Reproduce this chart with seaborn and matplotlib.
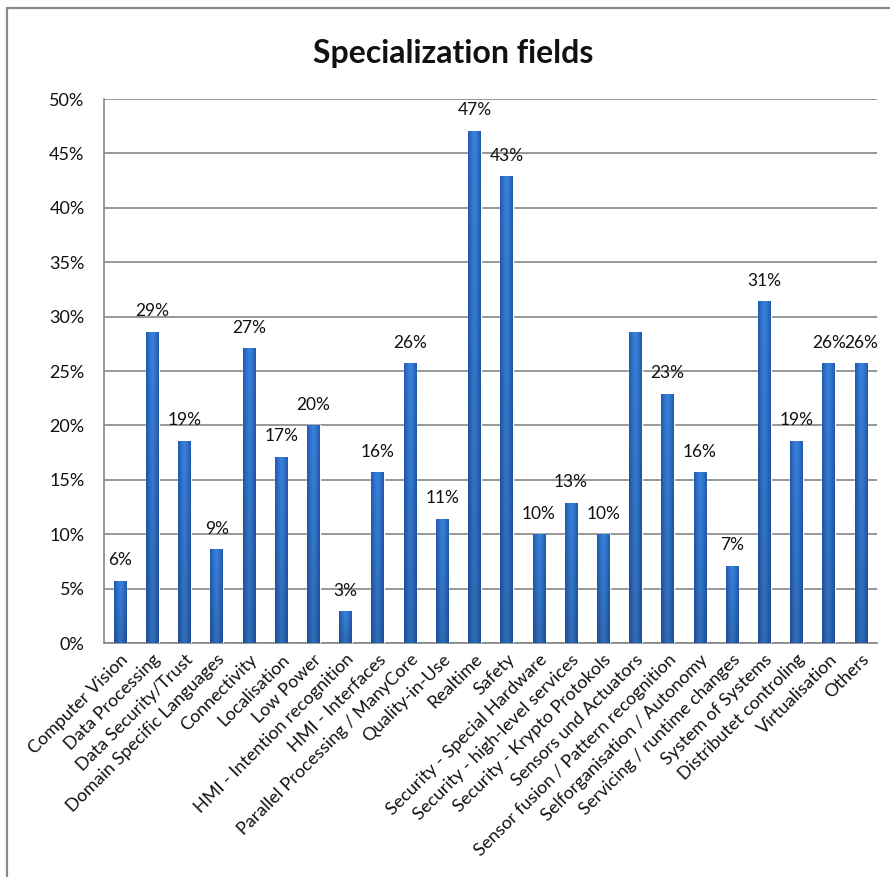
import numpy as np
import pandas as pd
import matplotlib
matplotlib.use("Agg")
import matplotlib.pyplot as plt
from matplotlib.colors import LinearSegmentedColormap
from matplotlib.patches import Rectangle
import seaborn as sns

categories = [
    "Computer Vision", "Data Processing", "Data Security/Trust",
    "Domain Specific Languages", "Connectivity", "Localisation", "Low Power",
    "HMI - Intention recognition", "HMI - Interfaces",
    "Parallel Processing / ManyCore", "Quality-in-Use", "Realtime", "Safety",
    "Security - Special Hardware", "Security - high-level services",
    "Security - Krypto Protokols", "Sensors und Actuators",
    "Sensor fusion / Pattern recognition", "Selforganisation / Autonomy",
    "Servicing / runtime changes", "System of Systems",
    "Distributet controling", "Virtualisation", "Others",
]
share_pct = [
    5.7, 28.6, 18.6, 8.6, 27.1, 17.1, 20.0, 2.9, 15.7, 25.7, 11.4, 47.1,
    42.9, 10.0, 12.9, 10.0, 28.6, 22.9, 15.7, 7.1, 31.4, 18.6, 25.7, 25.7,
]
# value labels shown above the bars (one is left out)
show_label = [True] * 16 + [False] + [True] * 7
y_ticks = [0, 5, 10, 15, 20, 25, 30, 35, 40, 45, 50]

df = pd.DataFrame({"field": categories, "share": share_pct})

sns.set_style("white")
plt.rcParams["font.family"] = ["Lato", "DejaVu Sans"]

W, H = 890, 877
fig = plt.figure(figsize=(W / 100, H / 100), dpi=100)
fig.patch.set_facecolor("white")

# chart frame
fig.add_artist(Rectangle((7 / W, -0.05), 1.2, (H - 8) / H + 0.05,
                         transform=fig.transFigure, fill=False,
                         edgecolor="#8a8a8a", linewidth=1.6))

ax = fig.add_axes([104 / W, (H - 643) / H, (877 - 104) / W, (643 - 99) / H])
sns.barplot(data=df, x="field", y="share", color="#2f72cc", width=0.39,
            saturation=1, ax=ax, zorder=3)

ax.set_xlim(-0.5, len(categories) - 0.5)
ax.set_ylim(0, 50)
ax.set_yticks(y_ticks)
ax.set_yticklabels([f"{t}%" for t in y_ticks], fontsize=13, color="#111111")
ax.yaxis.grid(True, color="#858585", linewidth=1.2, zorder=0)
ax.xaxis.grid(False)
ax.set_xlabel("")
ax.set_ylabel("")

for side in ["top", "right"]:
    ax.spines[side].set_visible(False)
for side in ["left", "bottom"]:
    ax.spines[side].set_color("#858585")
    ax.spines[side].set_linewidth(1.2)

ax.tick_params(axis="y", which="major", length=6, width=1.2, color="#858585",
               pad=8)
ax.set_xticks(range(len(categories)))
ax.set_xticklabels(categories, rotation=45, ha="right", rotation_mode="anchor",
                   fontsize=13, color="#111111")
ax.tick_params(axis="x", which="major", length=0, pad=6)
ax.set_xticks(np.arange(-0.5, len(categories)), minor=True)
ax.tick_params(axis="x", which="minor", length=5, width=1.2, color="#858585")

# shaded fill for each bar: lighter core, darker edges and base
shade = LinearSegmentedColormap.from_list(
    "barshade", ["#2259ad", "#2f72cc", "#3a83dc", "#2f72cc", "#2259ad"])
xs = np.linspace(0, 1, 64)
horiz = shade(xs)[None, :, :]
ys = np.linspace(0, 1, 64)[:, None, None]
grad = horiz.copy().repeat(64, axis=0)
grad[..., :3] = grad[..., :3] * (0.84 + 0.16 * ys)
for patch in ax.patches:
    x0, y0 = patch.get_x(), patch.get_y()
    w, h = patch.get_width(), patch.get_height()
    im = ax.imshow(grad, extent=(x0, x0 + w, y0, y0 + h), origin="lower",
                   aspect="auto", zorder=3.5, interpolation="bilinear")
    im.set_clip_path(patch)
ax.set_xlim(-0.5, len(categories) - 0.5)
ax.set_ylim(0, 50)

labels = [f"{round(v)}%" if s else "" for v, s in zip(share_pct, show_label)]
ax.bar_label(ax.containers[0], labels=labels, padding=9, fontsize=12.5,
             color="#111111")

fig.text(453 / W, 1 - 53 / H, "Specialization fields", ha="center",
         va="center", fontsize=23, fontweight="bold", color="#111111")

fig.savefig("out.png", dpi=100, facecolor="white")
